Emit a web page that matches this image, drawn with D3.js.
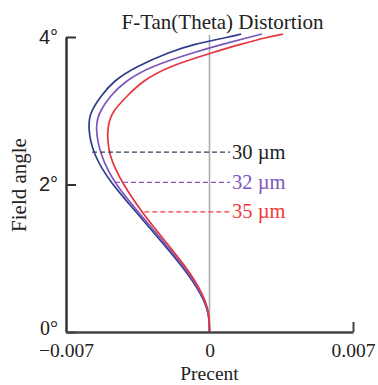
<!DOCTYPE html>
<html>
<head>
<meta charset="UTF-8">
<script src="https://d3js.org/d3.v7.min.js"></script>
<style>
  body { margin: 0; background: #fff; }
  text { font-family: "Liberation Serif", "Times New Roman", serif; }
</style>
</head>
<body>
<svg id="chart" width="378" height="385"></svg>
<script>
// field angle (degrees) shared by all three curves
const angles = [0, 0.2, 0.4, 0.8, 1.2, 1.6, 2.0, 2.4, 2.8, 3.0, 3.2, 3.4, 3.6, 3.8, 3.9, 4.0, 4.04];
// distortion in percent
const pct30 = [0, -0.00002, -0.00017, -0.00105, -0.00227, -0.00349, -0.00476, -0.00568, -0.00595, -0.00578, -0.00529, -0.00471, -0.00358, -0.00192, -0.00080, 0.00095, 0.00154];
const pct32 = [0, -0.00002, -0.00015, -0.00098, -0.00217, -0.00339, -0.00461, -0.00534, -0.00559, -0.00534, -0.00485, -0.00412, -0.00290, -0.00066, 0.00061, 0.00198, 0.00256];
const pct35 = [0, 0, -0.00012, -0.00090, -0.00207, -0.00324, -0.00422, -0.00495, -0.00500, -0.00471, -0.00402, -0.00329, -0.00202, 0.00027, 0.00149, 0.00285, 0.00359];

const seriesNames = ["30 µm", "32 µm", "35 µm"];
const seriesColors = ["#2f3c8c", "#7d55bd", "#e8343c"];
const lineColors = ["#3a3f5e", "#8a5cc8", "#f04040"];
const textColors = ["#222222", "#7d55bd", "#f03a3a"];
const labelAngles = [2.44, 2.03, 1.63];
const labelStart = [-0.00573, -0.00461, -0.00318];

const xTicks = [-0.007, 0, 0.007];
const xTickLabels = ["\u22120.007", "0", "0.007"];
const yTicks = [0, 2, 4];
const yTickLabels = ["0°", "2°", "4°"];

const svg = d3.select("#chart");
const margin = { top: 37, right: 25, bottom: 53, left: 66 };
const width = 378, height = 385;

const x = d3.scaleLinear().domain([-0.007, 0.007]).range([margin.left, width - margin.right]);
const y = d3.scaleLinear().domain([0, 4]).range([height - margin.bottom, margin.top]);

// title
svg.append("text")
  .attr("x", 222.5).attr("y", 29)
  .attr("text-anchor", "middle")
  .style("font-size", "21px").style("fill", "#222")
  .text("F-Tan(Theta) Distortion");

// zero line
svg.append("line")
  .attr("x1", x(0)).attr("x2", x(0))
  .attr("y1", y(0)).attr("y2", y(4) - 2)
  .style("stroke", "#a8a8a8").style("stroke-width", 1.5);

// curves
const line = d3.line()
  .x(d => x(d[1]))
  .y(d => y(d[0]))
  .curve(d3.curveBasis);

[pct30, pct32, pct35].forEach((vals, i) => {
  const pts = angles.map((a, k) => [a, vals[k]]);
  svg.append("path")
    .datum(pts)
    .attr("d", line)
    .style("fill", "none")
    .style("stroke", seriesColors[i])
    .style("stroke-width", 1.7);
});

// dashed label lines
seriesNames.forEach((name, i) => {
  svg.append("line")
    .attr("x1", x(labelStart[i])).attr("x2", 230)
    .attr("y1", y(labelAngles[i])).attr("y2", y(labelAngles[i]))
    .style("stroke", lineColors[i])
    .style("stroke-width", 1.3)
    .style("stroke-dasharray", "5,3");
  svg.append("text")
    .attr("x", 232).attr("y", y(labelAngles[i]) + 6.5)
    .style("font-size", "20.5px")
    .style("fill", textColors[i])
    .text(name);
});

// y axis
const leftAxis = d3.axisLeft(y).tickValues(yTicks)
  .tickFormat((d, i) => yTickLabels[i])
  .tickSizeInner(-10).tickSizeOuter(0).tickPadding(8);
const gy = svg.append("g").attr("transform", "translate(" + margin.left + ",0)").call(leftAxis);
gy.select(".domain").style("stroke", "#333").style("stroke-width", 2.5);
gy.selectAll(".tick line").style("stroke", "#333").style("stroke-width", 2);
gy.selectAll(".tick text")
  .style("font-size", "20px").style("fill", "#222")
  .style("font-family", (d) => d === 0 ? "Liberation Serif" : "Liberation Sans")
  .attr("dy", (d) => d === 0 ? "0.1em" : "0.32em");

// x axis
const bottomAxis = d3.axisBottom(x).tickValues(xTicks)
  .tickFormat((d, i) => xTickLabels[i])
  .tickSize(0).tickPadding(11);
const gx = svg.append("g").attr("transform", "translate(0," + (height - margin.bottom) + ")").call(bottomAxis);
gx.select(".domain").style("stroke", "#444").style("stroke-width", 2.5);
gx.selectAll(".tick text").style("font-size", "19.5px").style("fill", "#222");
gx.selectAll(".tick").filter(d => d === 0.007).append("line")
  .attr("y1", 0).attr("y2", -10)
  .style("stroke", "#444").style("stroke-width", 2);

// axis titles
svg.append("text")
  .attr("x", x(0)).attr("y", 380)
  .attr("text-anchor", "middle")
  .style("font-size", "19.5px").style("fill", "#222")
  .text("Precent");

svg.append("text")
  .attr("transform", "translate(26," + 185 + ") rotate(-90)")
  .attr("text-anchor", "middle")
  .style("font-size", "21px").style("fill", "#222")
  .text("Field angle");
</script>
</body>
</html>
